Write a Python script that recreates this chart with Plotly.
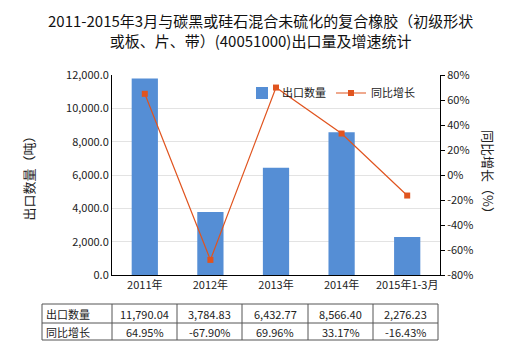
import plotly.graph_objects as go

categories = ["2011年", "2012年", "2013年", "2014年", "2015年1-3月"]
export_qty = [11790.04, 3784.83, 6432.77, 8566.40, 2276.23]
growth_pct = [64.95, -67.90, 69.96, 33.17, -16.43]
qty_labels = ["11,790.04", "3,784.83", "6,432.77", "8,566.40", "2,276.23"]
growth_labels = ["64.95%", "-67.90%", "69.96%", "33.17%", "-16.43%"]
left_ticks = [0, 2000, 4000, 6000, 8000, 10000, 12000]
left_tick_text = ["0.0", "2,000.0", "4,000.0", "6,000.0", "8,000.0", "10,000.0", "12,000.0"]
right_ticks = [-80, -60, -40, -20, 0, 20, 40, 60, 80]
right_tick_text = [f"{v}%" for v in right_ticks]
row_names = ["出口数量", "同比增长"]

FONT = "Microsoft YaHei, Noto Sans CJK SC, sans-serif"
BAR_COLOR = "#558ED5"
LINE_COLOR = "#E0541F"

fig = go.Figure()
fig.add_trace(go.Bar(x=categories, y=export_qty, name="出口数量",
                     marker=dict(color=BAR_COLOR, line=dict(width=0)), yaxis="y"))
fig.add_trace(go.Scatter(x=categories, y=growth_pct, name="同比增长", yaxis="y2",
                         mode="lines+markers",
                         line=dict(color=LINE_COLOR, width=1.2),
                         marker=dict(symbol="square", size=6, color=LINE_COLOR)))

W, H = 520, 350
L, R, T, B = 112, 80, 75, 75
pw = W - L - R
ph = H - T - B


def px_x(x):
    return (x - L) / pw


def px_y(y):
    return (H - B - y) / ph


fig.update_layout(
    width=W, height=H,
    margin=dict(l=L, r=R, t=T, b=B, pad=0),
    paper_bgcolor="white", plot_bgcolor="white",
    font=dict(family=FONT, size=11, color="#222"),
    bargap=0.6,
    showlegend=True,
    legend=dict(orientation="h", x=px_x(242), y=px_y(93), xanchor="left", yanchor="middle",
                font=dict(size=11, color="#222"), bgcolor="rgba(0,0,0,0)",
                itemwidth=30, traceorder="normal"),
    xaxis=dict(showline=True, linecolor="black", linewidth=1, ticks="",
               tickfont=dict(size=11, color="#222"), showgrid=False),
    yaxis=dict(range=[0, 12000], tickvals=left_ticks, ticktext=left_tick_text,
               showline=True, linecolor="black", linewidth=1, ticks="",
               showgrid=True, gridcolor="#E3E3E3", gridwidth=1,
               tickfont=dict(size=11, color="#222"), zeroline=False,
               title=dict(text="出口数量（吨）", font=dict(size=13, color="#222"), standoff=28)),
    yaxis2=dict(range=[-80, 80], tickvals=right_ticks, ticktext=right_tick_text,
                overlaying="y", side="right", showline=True, linecolor="black", linewidth=1,
                ticks="outside", ticklen=4, tickcolor="black", showgrid=False, zeroline=False,
                tickfont=dict(size=11, color="#222")),
)

# title
fig.add_annotation(text="2011-2015年3月与碳黑或硅石混合未硫化的复合橡胶（初级形状<br>或板、片、带）(40051000)出口量及增速统计",
                   xref="paper", yref="paper", x=px_x(260), y=px_y(8), xanchor="center", yanchor="top",
                   showarrow=False, align="center", font=dict(size=15, color="#111"))

# right axis title rotated (top to bottom)
fig.add_annotation(text="同比增长（%）", xref="paper", yref="paper", x=px_x(489), y=0.5,
                   xanchor="center", yanchor="middle",
                   showarrow=False, textangle=90, font=dict(size=13, color="#222"))

# data table below chart
col_edges = [42, 112, 177, 242, 308, 373, 438]
row_edges = [304, 323, 340]
line_style = dict(color="#555", width=1)
for yy in row_edges:
    fig.add_shape(type="line", xref="paper", yref="paper",
                  x0=px_x(col_edges[0]), x1=px_x(col_edges[-1]), y0=px_y(yy), y1=px_y(yy),
                  line=line_style)
for xx in col_edges:
    fig.add_shape(type="line", xref="paper", yref="paper",
                  x0=px_x(xx), x1=px_x(xx), y0=px_y(row_edges[0]), y1=px_y(row_edges[-1]),
                  line=line_style)

rows = [qty_labels, growth_labels]
for r in range(2):
    yc = (row_edges[r] + row_edges[r + 1]) / 2
    fig.add_annotation(text=row_names[r], xref="paper", yref="paper",
                       x=px_x(col_edges[0] + 2), y=px_y(yc), xanchor="left", yanchor="middle",
                       showarrow=False, font=dict(size=11, color="#222"))
    for c in range(5):
        xc = (col_edges[c + 1] + col_edges[c + 2]) / 2
        fig.add_annotation(text=rows[r][c], xref="paper", yref="paper",
                           x=px_x(xc), y=px_y(yc), xanchor="center", yanchor="middle",
                           showarrow=False, font=dict(size=11, color="#222"))

fig.write_html("out.html")
